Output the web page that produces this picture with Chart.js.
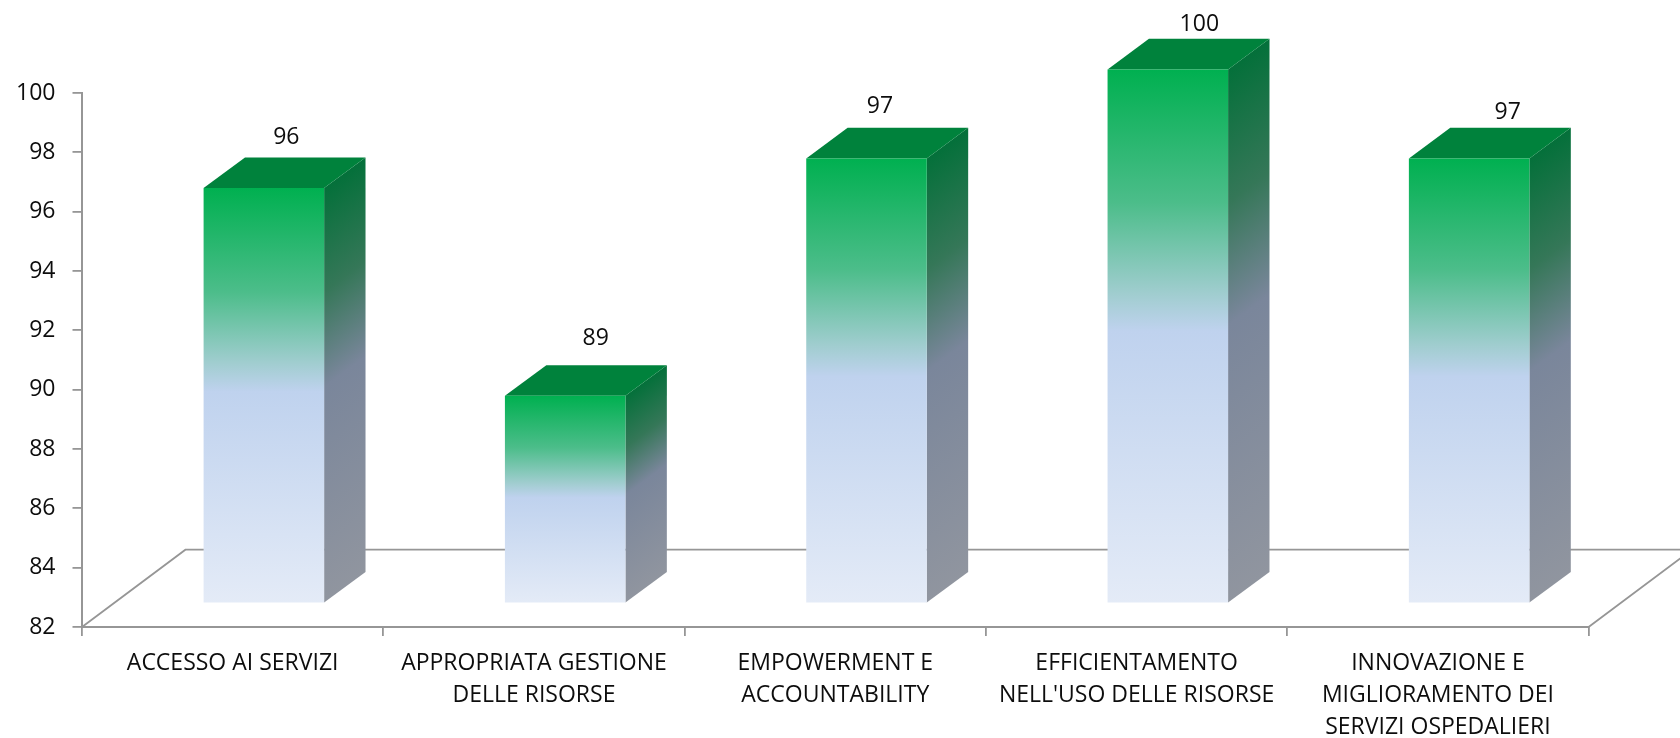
<!DOCTYPE html>
<html>
<head>
<meta charset="utf-8">
<style>
  html, body { margin: 0; padding: 0; background: #fff; }
  canvas { display: block; }
</style>
<script src="https://cdn.jsdelivr.net/npm/chart.js@4/dist/chart.umd.js"></script>
</head>
<body>
<canvas id="chart" width="1680" height="738"></canvas>
<script>
const categories = [
  'ACCESSO AI SERVIZI',
  ['APPROPRIATA GESTIONE', 'DELLE RISORSE'],
  ['EMPOWERMENT E', 'ACCOUNTABILITY'],
  ['EFFICIENTAMENTO', "NELL'USO DELLE RISORSE"],
  ['INNOVAZIONE E', 'MIGLIORAMENTO DEI', 'SERVIZI OSPEDALIERI']
];
const scores = [96, 89, 97, 100, 97];
const yMin = 82;
const yMax = 100;
const yStep = 2;

// hand placed data labels in the original, offset from the top of the front face
const labelNudgeX = [22.5, 30.5, 13.5, 31.5, 38.5];
const labelNudgeY = [-51, -57, -52, -45, -46];

const AXIS_COLOR = '#969696';
const TEXT_COLOR = '#0d0d0d';
const FONT = '"Open Sans", sans-serif';
const frontShift = { x: 31.2, y: -23.6 }; // front face vs axis plane
const depth = { x: 41.4, y: -30.6 };      // bar depth
const floorDepth = { x: 103.4, y: -77.3 };

function barGradient(c, top, bottom, stops) {
  const g = c.createLinearGradient(0, top, 0, bottom);
  stops.forEach(s => g.addColorStop(s[0], s[1]));
  return g;
}

// side face: colour bands follow the slope of the depth edge
function sideGradient(c, x, top, bottom) {
  const len = Math.hypot(depth.x, depth.y);
  const nx = -depth.y / len;
  const ny = depth.x / len;
  const t = (bottom - top) * ny;
  const g = c.createLinearGradient(x, top, x + nx * t, top + ny * t);
  g.addColorStop(0, '#04703A');
  g.addColorStop(0.25, '#357758');
  g.addColorStop(0.48, '#7A869B');
  g.addColorStop(1, '#90959F');
  return g;
}

function frontFill(ctx) {
  const chart = ctx.chart;
  if (!chart.chartArea || ctx.raw === undefined) return '#00B050';
  return barGradient(chart.ctx, chart.scales.y.getPixelForValue(ctx.raw), chart.chartArea.bottom, [
    [0, '#00B050'],
    [0.25, '#4CBD8A'],
    [0.42, '#A0CDCF'],
    [0.49, '#BFD2EE'],
    [1, '#E4EBF7']
  ]);
}

// floor of the 3d plot, sits behind the bars
const floorPlugin = {
  id: 'floor',
  beforeDatasetsDraw(chart) {
    const { ctx, chartArea: a } = chart;
    ctx.save();
    ctx.strokeStyle = AXIS_COLOR;
    ctx.lineWidth = 1.8;
    ctx.beginPath();
    ctx.moveTo(a.left, a.bottom);
    ctx.lineTo(a.left + floorDepth.x, a.bottom + floorDepth.y);
    ctx.lineTo(a.right + floorDepth.x, a.bottom + floorDepth.y);
    ctx.lineTo(a.right, a.bottom);
    ctx.stroke();
    ctx.restore();
  }
};

// draws top and side faces, then shifts the canvas so the real bars become the front faces
const box3dPlugin = {
  id: 'box3d',
  beforeDatasetDraw(chart, args) {
    const { ctx } = chart;
    const bars = chart.getDatasetMeta(args.index).data;
    ctx.save();
    ctx.translate(frontShift.x, frontShift.y);
    bars.forEach(bar => {
      const r = bar.x + bar.width / 2;
      const l = bar.x - bar.width / 2;
      ctx.fillStyle = sideGradient(ctx, r, bar.y, bar.base);
      ctx.beginPath();
      ctx.moveTo(r, bar.y);
      ctx.lineTo(r + depth.x, bar.y + depth.y);
      ctx.lineTo(r + depth.x, bar.base + depth.y);
      ctx.lineTo(r, bar.base);
      ctx.closePath();
      ctx.fill();

      ctx.fillStyle = '#00823C';
      ctx.beginPath();
      ctx.moveTo(l, bar.y);
      ctx.lineTo(l + depth.x, bar.y + depth.y);
      ctx.lineTo(r + depth.x, bar.y + depth.y);
      ctx.lineTo(r, bar.y);
      ctx.closePath();
      ctx.fill();
    });
  },
  afterDatasetDraw(chart, args) {
    const { ctx } = chart;
    ctx.restore();
    const bars = chart.getDatasetMeta(args.index).data;
    ctx.save();
    ctx.font = '23px ' + FONT;
    ctx.fillStyle = TEXT_COLOR;
    ctx.textAlign = 'center';
    ctx.textBaseline = 'middle';
    bars.forEach((bar, i) => {
      ctx.fillText(String(scores[i]),
        bar.x + frontShift.x + labelNudgeX[i],
        bar.y + frontShift.y + labelNudgeY[i]);
    });
    ctx.restore();
  }
};

new Chart(document.getElementById('chart').getContext('2d'), {
  type: 'bar',
  data: {
    labels: categories,
    datasets: [{
      data: scores,
      base: yMin,
      backgroundColor: frontFill,
      borderWidth: 0,
      categoryPercentage: 1,
      barPercentage: 0.4,
      clip: false
    }]
  },
  options: {
    responsive: false,
    animation: false,
    layout: { padding: { top: 93, right: 91.4, left: 0, bottom: 0 } },
    plugins: { legend: { display: false }, tooltip: { enabled: false } },
    scales: {
      x: {
        afterFit(scale) { scale.height = 111; },
        grid: { drawOnChartArea: false, color: AXIS_COLOR, lineWidth: 1.8, tickLength: 9 },
        border: { color: AXIS_COLOR, width: 2 },
        ticks: {
          color: TEXT_COLOR,
          font: { family: FONT, size: 23, lineHeight: 1.4 },
          maxRotation: 0,
          autoSkip: false,
          padding: 11
        }
      },
      y: {
        min: yMin,
        max: yMax,
        afterFit(scale) { scale.width = 82; },
        grid: { drawOnChartArea: false, color: AXIS_COLOR, lineWidth: 1.8, tickLength: 9.5 },
        border: { color: AXIS_COLOR, width: 2 },
        ticks: {
          stepSize: yStep,
          color: TEXT_COLOR,
          font: { family: FONT, size: 23 },
          padding: 17
        }
      }
    }
  },
  plugins: [floorPlugin, box3dPlugin]
});
</script>
</body>
</html>
